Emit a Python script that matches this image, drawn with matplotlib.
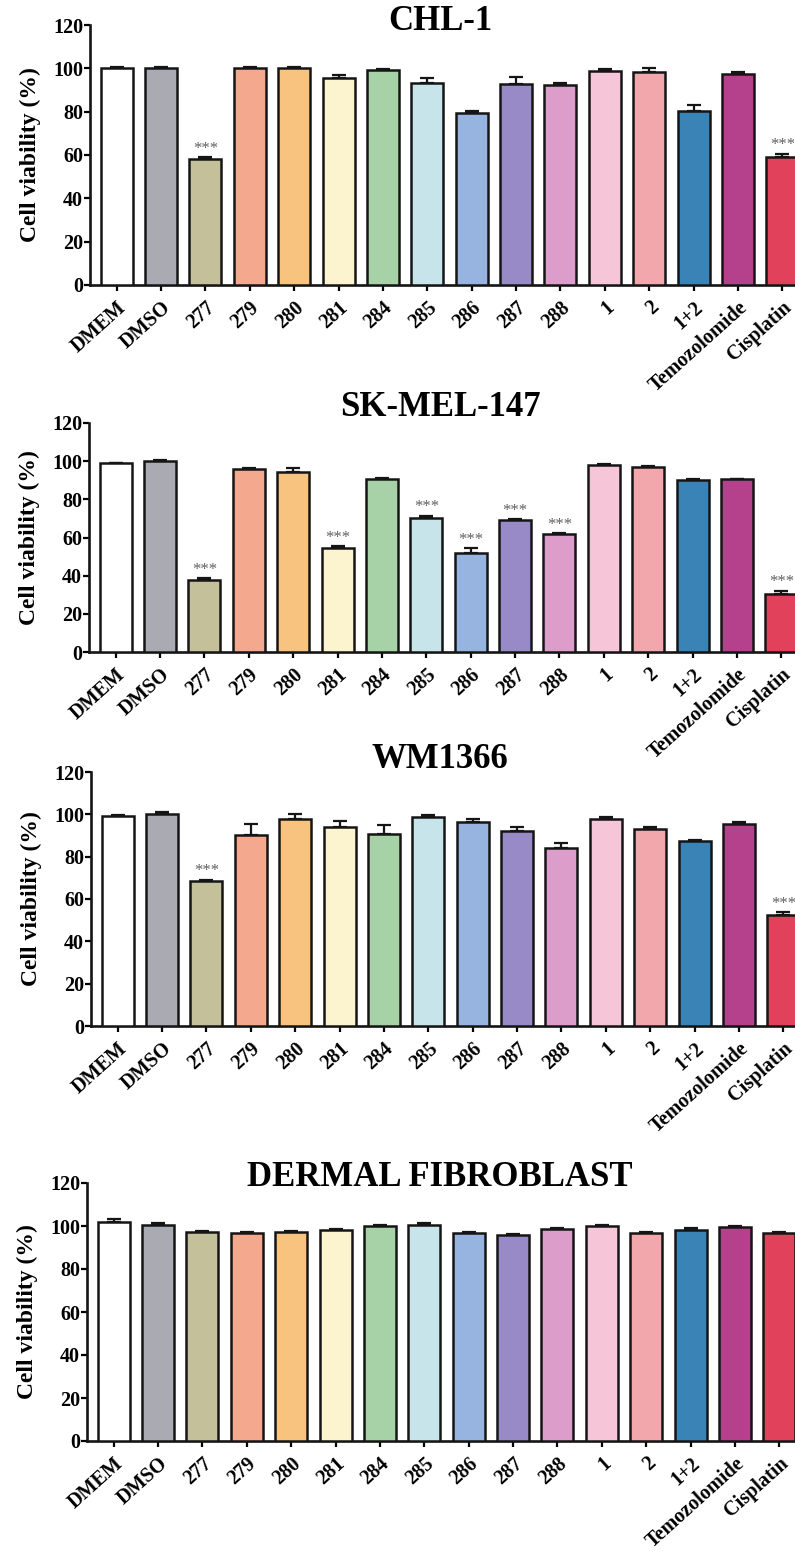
import matplotlib
matplotlib.use("Agg")
import matplotlib.pyplot as plt

plt.rcParams['font.family'] = ['Liberation Serif', 'DejaVu Serif']
plt.rcParams['font.weight'] = 'bold'

# treatments on the x axis
groups = ["DMEM", "DMSO", "277", "279", "280", "281", "284", "285", "286",
          "287", "288", "1", "2", "1+2", "Temozolomide", "Cisplatin"]

bar_colors = ["#FFFFFF", "#A9AAB2", "#C4C09A", "#F4A88E", "#F7C37E", "#FBF4CF",
              "#A7D2A7", "#C7E4EA", "#97B3DF", "#988AC6", "#DD9DCA", "#F6C6D8",
              "#F1A7AC", "#3A83B6", "#B5408B", "#E1415B"]

# mean viability (%) and upper error per cell line
chl1_vals = [100.0, 100.0, 58.3, 100.0, 100.0, 95.6, 99.3, 93.3, 79.5, 92.9,
             92.4, 99.0, 98.5, 80.3, 97.4, 59.2]
chl1_err = [0.6, 0.5, 0.8, 0.4, 0.4, 1.2, 0.6, 2.2, 1.0, 3.0, 0.9, 0.6, 1.6, 3.0, 1.0, 1.4]
chl1_sig = ["277", "Cisplatin"]

sk_vals = [98.8, 100.2, 37.6, 96.0, 94.2, 54.3, 90.6, 70.3, 52.0, 69.0,
           61.6, 98.0, 96.9, 89.9, 90.4, 30.2]
sk_err = [0.5, 0.6, 1.0, 0.6, 2.0, 1.0, 0.8, 1.1, 2.4, 0.6, 0.7, 0.5, 0.6, 1.0, 0.4, 2.0]
sk_sig = ["277", "281", "285", "286", "287", "288", "Cisplatin"]

wm_vals = [99.0, 100.2, 68.4, 90.4, 97.9, 94.0, 90.6, 98.6, 96.2, 92.0,
           84.0, 97.7, 93.2, 87.6, 95.5, 52.4]
wm_err = [0.5, 1.0, 0.7, 5.0, 2.4, 2.8, 4.5, 1.3, 1.6, 1.8, 2.6, 1.0, 0.6, 0.3, 1.0, 1.4]
wm_sig = ["277", "Cisplatin"]

fib_vals = [102.0, 100.5, 97.0, 96.8, 97.0, 98.0, 100.0, 100.6, 96.7, 95.6,
            98.4, 99.8, 96.8, 98.3, 99.4, 96.6]
fib_err = [1.2, 1.0, 0.5, 0.6, 0.8, 0.7, 0.4, 0.6, 0.6, 0.6, 0.6, 0.5, 0.5, 0.7, 0.5, 0.5]
fib_sig = []

yticks = [0, 20, 40, 60, 80, 100, 120]

panels = [
    ("CHL-1", chl1_vals, chl1_err, chl1_sig),
    ("SK-MEL-147", sk_vals, sk_err, sk_sig),
    ("WM1366", wm_vals, wm_err, wm_sig),
    ("DERMAL FIBROBLAST", fib_vals, fib_err, fib_sig),
]

W, H = 795, 1562
# axes frames in pixels: left, y of zero line, height
frames = [(90, 285, 260), (89, 652, 229), (91, 1026, 254), (87, 1441, 258)]
title_y = [22, 408, 760, 1177]
axw = 719


def main():
    fig = plt.figure(figsize=(W / 100, H / 100), dpi=100)
    fig.patch.set_facecolor("white")
    x = list(range(len(groups)))

    for (title, vals, errs, sig), (l, y0, h), ty in zip(panels, frames, title_y):
        ax = fig.add_axes([l / W, 1 - y0 / H, axw / W, h / H])
        ax.bar(x, vals, width=0.72, color=bar_colors, edgecolor="#151515",
               linewidth=1.8, zorder=3)
        ax.errorbar(x, vals, yerr=[[0] * len(errs), errs], fmt="none",
                    ecolor="#151515", elinewidth=1.6, capsize=5, capthick=1.6,
                    zorder=2)
        for g in sig:
            i = groups.index(g)
            ax.annotate("***", (i, vals[i] + errs[i]), xytext=(0, 6),
                        textcoords="offset points", ha="center", va="center",
                        fontsize=12, color="#606060", fontweight="normal")

        ax.set_xlim(-0.6, len(groups) - 0.4)
        ax.set_ylim(0, 120)
        ax.set_yticks(yticks)
        ax.set_xticks(x)
        ax.set_xticklabels(groups, rotation=42, ha="right",
                           rotation_mode="anchor", fontsize=14.5, fontweight="bold")
        ax.tick_params(axis="y", labelsize=14.5, width=1.6, length=4, pad=1)
        ax.tick_params(axis="x", width=1.6, length=4, pad=5)
        for lab in ax.get_yticklabels():
            lab.set_fontweight("bold")
        for side in ("top", "right"):
            ax.spines[side].set_visible(False)
        for side in ("left", "bottom"):
            ax.spines[side].set_linewidth(1.9)
            ax.spines[side].set_color("#151515")
        ax.set_ylabel("Cell viability (%)", fontsize=17, fontweight="bold")
        ax.yaxis.set_label_coords(-0.068, 0.5)

        fig.text(440 / W, 1 - ty / H, title, ha="center", va="center",
                 fontsize=25, fontweight="bold")

    fig.savefig("out.png", dpi=100, facecolor="white")
    plt.close(fig)


if __name__ == "__main__":
    main()
